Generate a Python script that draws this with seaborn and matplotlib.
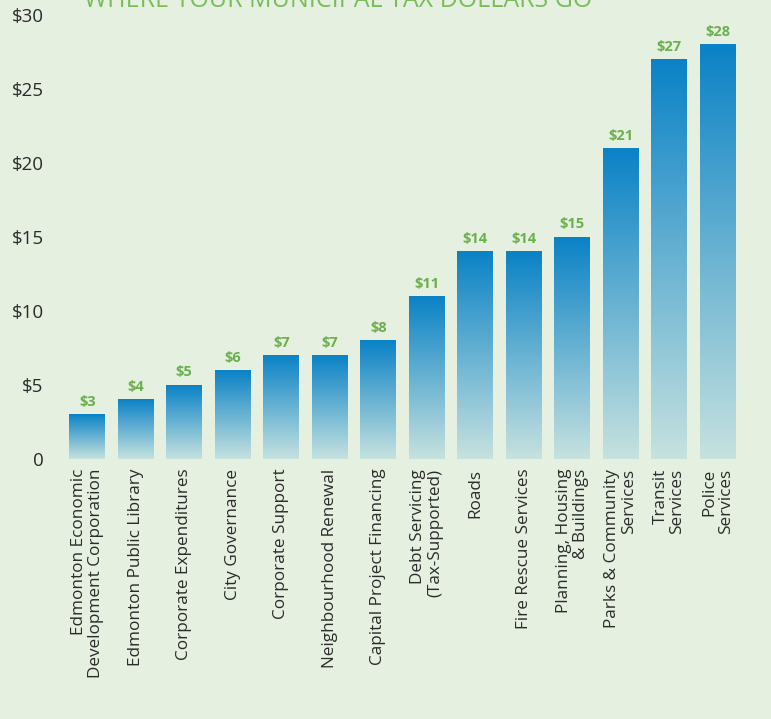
import numpy as np
import pandas as pd
import matplotlib
matplotlib.use("Agg")
import matplotlib.pyplot as plt
from matplotlib.colors import LinearSegmentedColormap
import seaborn as sns

categories = [
    "Edmonton Economic\nDevelopment Corporation",
    "Edmonton Public Library",
    "Corporate Expenditures",
    "City Governance",
    "Corporate Support",
    "Neighbourhood Renewal",
    "Capital Project Financing",
    "Debt Servicing\n(Tax-Supported)",
    "Roads",
    "Fire Rescue Services",
    "Planning, Housing\n& Buildings",
    "Parks & Community\nServices",
    "Transit\nServices",
    "Police\nServices",
]
amounts = [3, 4, 5, 6, 7, 7, 8, 11, 14, 14, 15, 21, 27, 28]
y_ticks = [0, 5, 10, 15, 20, 25, 30]
y_tick_labels = ["0", "$5", "$10", "$15", "$20", "$25", "$30"]
title = "WHERE YOUR MUNICIPAL TAX DOLLARS GO"

BG = "#e6f0e1"
GREEN = "#6ab04c"
TITLE_GREEN = "#78bd5a"
TEXT = "#2b2b2b"
BAR_TOP = "#0a82c6"
BAR_BOTTOM = "#c6e2df"

sns.set_theme(style="white")
plt.rcParams["font.family"] = ["Open Sans", "DejaVu Sans"]

df = pd.DataFrame({"category": categories, "amount": amounts})

fig = plt.figure(figsize=(7.71, 7.19), dpi=100, facecolor=BG)
ax = fig.add_axes([63 / 771, 260 / 719, (742 - 63) / 771, (459 - 15) / 719])
ax.set_facecolor(BG)

sns.barplot(data=df, x="category", y="amount", color=BAR_TOP, width=0.74,
            saturation=1, ax=ax)

# vertical gradient fill for each bar: dark blue at top fading to pale at the base
cmap = LinearSegmentedColormap.from_list("bar_fade", [BAR_BOTTOM, BAR_TOP])
grad = np.linspace(0, 1, 256).reshape(-1, 1)
for patch in ax.patches:
    x0, w, h = patch.get_x(), patch.get_width(), patch.get_height()
    patch.set_facecolor("none")
    patch.set_edgecolor("none")
    ax.imshow(grad, cmap=cmap, origin="lower", aspect="auto",
              extent=(x0, x0 + w, 0, h), zorder=2)
    ax.annotate(f"${h:.0f}", (x0 + w / 2, h), xytext=(0, 4),
                textcoords="offset points", ha="center", va="bottom",
                color=GREEN, fontsize=10.5, fontweight="bold",
                family=["Liberation Sans Narrow", "Open Sans", "DejaVu Sans"])

ax.set_xlim(-0.5, len(categories) - 0.5)
ax.set_ylim(0, 30)
ax.set_yticks(y_ticks)
ax.set_yticklabels(y_tick_labels, fontsize=13.5, color=TEXT)
ax.tick_params(axis="y", length=0, pad=14)
ax.tick_params(axis="x", length=0, pad=7)
ax.set_xticks(range(len(categories)))
ax.set_xticklabels(categories, rotation=90, ha="center", va="top",
                   multialignment="right", fontsize=12.3, color=TEXT,
                   linespacing=1.05)
ax.set_xlabel("")
ax.set_ylabel("")
for side in ax.spines.values():
    side.set_visible(False)

fig.text(338 / 771, 1 - 7 / 719, title, ha="center", va="baseline",
         color=TITLE_GREEN, fontsize=18)

fig.savefig("out.png", dpi=100, facecolor=BG)
